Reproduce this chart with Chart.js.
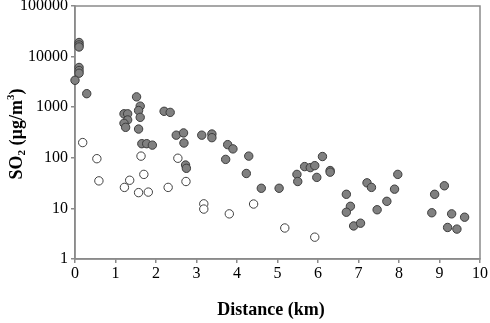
<!DOCTYPE html>
<html>
<head>
<meta charset="utf-8">
<script src="https://cdn.jsdelivr.net/npm/chart.js@4"></script>
<style>
html,body{margin:0;padding:0;background:#fff;}
#wrap{width:490px;height:323px;position:relative;}
</style>
</head>
<body>
<div id="wrap"><canvas id="c" width="490" height="323"></canvas></div>
<script>
// Data
const filledX = [0.10,0.10,0.10,0.10,0.10,0.10,0.00,0.29,
  1.21,1.30,1.30,1.21,1.25,
  1.52,1.61,1.57,1.61,1.57,
  1.65,1.77,1.91,
  2.20,2.35,
  2.50,2.68,2.69,2.73,2.75,
  3.13,3.38,3.38,
  3.77,3.90,3.72,
  4.29,4.23,4.60,5.04,
  5.48,5.50,5.67,5.81,5.92,5.97,6.11,6.30,6.30,
  6.70,6.80,6.70,6.88,7.05,7.21,7.32,7.46,7.70,7.89,7.97,
  8.81,8.88,9.12,9.30,9.20,9.43,9.62];
const filledY = [19000,17000,15500,6100,5300,4700,3400,1850,
  740,740,560,480,400,
  1600,1050,860,630,370,
  190,190,178,
  830,790,
  280,310,196,72,62,
  280,295,250,
  182,150,93,
  108,49,25,25,
  47,34,67,64,70,41,106,56,52,
  19,11,8.4,4.5,5.1,32,26,9.4,13.8,24,47,
  8.2,19,28,7.8,4.2,3.9,6.7];
const openX = [0.19,0.54,0.59,1.22,1.35,1.57,1.63,1.70,1.81,2.30,2.54,2.74,3.18,3.18,3.81,4.41,5.18,5.92];
const openY = [200,96,35,26,36,20.5,108,47,21,26,98,34,12.3,9.7,7.8,12.2,4.1,2.7];
const yTicks = [1,10,100,1000,10000,100000];
const xTicks = [0,1,2,3,4,5,6,7,8,9,10];
const xTitle = 'Distance (km)';

const toPts = (xs, ys) => xs.map((x, i) => ({x: x, y: ys[i]}));
const FONT = "'Liberation Serif', 'Times New Roman', serif";
const AXIS = '#8a8a8a';

const frame = {
  id: 'frame',
  beforeDatasetsDraw(chart) {
    const a = chart.chartArea, ctx = chart.ctx;
    ctx.save();
    ctx.strokeStyle = AXIS;
    ctx.lineWidth = 1.5;
    ctx.strokeRect(a.left, a.top, a.right - a.left, a.bottom - a.top);
    ctx.restore();
  },
  afterDraw(chart) {
    const ctx = chart.ctx;
    // x axis title
    ctx.save();
    ctx.fillStyle = '#000';
    ctx.font = 'bold 18px ' + FONT;
    ctx.textAlign = 'center';
    ctx.textBaseline = 'alphabetic';
    ctx.fillText(xTitle, 271, 315);
    ctx.restore();
    // y axis title with sub/superscript
    ctx.save();
    ctx.fillStyle = '#000';
    ctx.textBaseline = 'alphabetic';
    ctx.translate(22, 134);
    ctx.rotate(-Math.PI / 2);
    const parts = [
      ['SO', 'bold 18px ' + FONT, 0],
      ['2', 'bold 11px ' + FONT, 3],
      [' (\u00b5g/m', 'bold 18px ' + FONT, 0],
      ['3', 'bold 11px ' + FONT, -8],
      [')', 'bold 18px ' + FONT, 0]
    ];
    let total = 0;
    parts.forEach(p => { ctx.font = p[1]; total += ctx.measureText(p[0]).width; });
    let x = -total / 2;
    parts.forEach(p => {
      ctx.font = p[1];
      ctx.fillText(p[0], x, p[2]);
      x += ctx.measureText(p[0]).width;
    });
    ctx.restore();
  }
};

new Chart(document.getElementById('c'), {
  type: 'scatter',
  data: {
    datasets: [
      {
        label: 'filled',
        data: toPts(filledX, filledY),
        backgroundColor: '#808080',
        borderColor: '#3c3c3c',
        borderWidth: 1,
        pointRadius: 4.2,
        clip: false
      },
      {
        label: 'open',
        data: toPts(openX, openY),
        backgroundColor: '#ffffff',
        borderColor: '#404040',
        borderWidth: 1,
        pointRadius: 4.2,
        clip: false
      }
    ]
  },
  options: {
    responsive: false,
    animation: false,
    devicePixelRatio: 1,
    layout: {padding: {top: 6, right: 10, left: 0, bottom: 0}},
    plugins: {legend: {display: false}, tooltip: {enabled: false}},
    scales: {
      x: {
        type: 'linear',
        min: 0, max: 10,
        afterBuildTicks(s) { s.ticks = xTicks.map(v => ({value: v})); },
        afterFit(s) { s.height = 64; s.paddingLeft = 0; s.paddingRight = 0; },
        grid: {drawOnChartArea: false, drawTicks: true, tickLength: 4, color: AXIS, lineWidth: 1.5},
        border: {display: true, color: AXIS, width: 1.5},
        ticks: {color: '#000', font: {family: FONT, size: 16}, padding: 1, maxRotation: 0},
        title: {display: false}
      },
      y: {
        type: 'logarithmic',
        min: 1, max: 100000,
        afterBuildTicks(s) { s.ticks = yTicks.map(v => ({value: v})); },
        afterFit(s) { s.width = 75; s.paddingTop = 0; s.paddingBottom = 0; },
        grid: {drawOnChartArea: false, drawTicks: true, tickLength: 4, color: AXIS, lineWidth: 1.5},
        border: {display: true, color: AXIS, width: 1.5},
        ticks: {color: '#000', font: {family: FONT, size: 16}, padding: 3, callback: v => String(v)}
      }
    }
  },
  plugins: [frame]
});
</script>
</body>
</html>
